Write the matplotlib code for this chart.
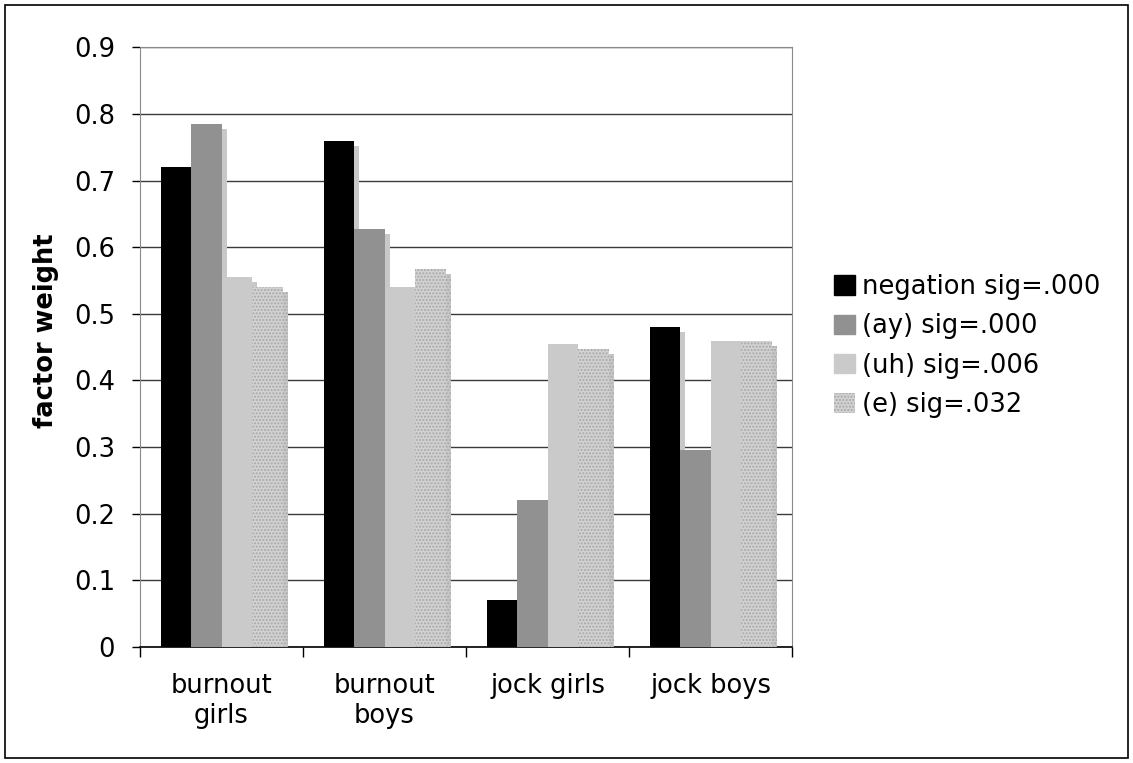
import numpy as np
import matplotlib
matplotlib.use('Agg')
import matplotlib.pyplot as plt
import matplotlib.patheffects as pe
from matplotlib.patches import Patch, Rectangle

# ---------------------------------------------------------------------------
# Data
# ---------------------------------------------------------------------------
groups = ['burnout\ngirls', 'burnout\nboys', 'jock girls', 'jock boys']
series = ['negation sig=.000', '(ay) sig=.000', '(uh) sig=.006', '(e) sig=.032']
negation = [0.72, 0.76, 0.07, 0.48]
ay = [0.785, 0.627, 0.22, 0.295]
uh = [0.555, 0.54, 0.455, 0.46]
e = [0.54, 0.568, 0.447, 0.46]
y_ticks = [0, 0.1, 0.2, 0.3, 0.4, 0.5, 0.6, 0.7, 0.8, 0.9]

FS = 18.5
plt.rcParams['hatch.linewidth'] = 1.0

fig = plt.figure(figsize=(11.33, 7.63), dpi=100)
ax = fig.add_axes([0.1236, 0.152, 0.5755, 0.786])

# outer frame round the whole picture
fig.patches.append(Rectangle((0.004, 0.006), 0.992, 0.988, transform=fig.transFigure,
                             fill=False, edgecolor='black', linewidth=1.2))

x = np.arange(len(groups))
w = 0.187
styles = [
    dict(color='#000000'),
    dict(color='#919191'),
    dict(color='#cacaca'),
    dict(facecolor='#d2d2d2', edgecolor='#a8a8a8', hatch='.....', linewidth=0),
]
shadow = [pe.SimplePatchShadow(offset=(3.6, -3.6), shadow_rgbFace='#c8c8c8', alpha=1.0),
          pe.Normal()]

for i, (vals, st) in enumerate(zip([negation, ay, uh, e], styles)):
    bars = ax.bar(x + (i - 1.5) * w, vals, width=w, zorder=3, **st)
    for b in bars:
        b.set_path_effects(shadow)

ax.set_ylim(0, 0.9)
ax.set_xlim(-0.5, len(groups) - 0.5)
ax.set_yticks(y_ticks)
ax.set_yticklabels([f'{t:g}' for t in y_ticks], fontsize=FS)
ax.yaxis.grid(True, color='#3a3a3a', linewidth=1.0, zorder=0)
ax.set_axisbelow(True)

# category boundaries as ticks, names on minor ticks at centres
ax.set_xticks(np.arange(len(groups) + 1) - 0.5)
ax.set_xticklabels([])
ax.set_xticks(x, minor=True)
ax.set_xticklabels(groups, minor=True, fontsize=FS, linespacing=1.2)
ax.tick_params(axis='x', which='major', length=7, width=1, direction='out')
ax.tick_params(axis='x', which='minor', length=0, pad=19)
ax.tick_params(axis='y', length=6, width=1, direction='out', pad=12)

for s in ['top', 'right']:
    ax.spines[s].set_color('#8a8a8a')
ax.spines['left'].set_color('#8a8a8a')
ax.spines['bottom'].set_color('black')
ax.spines['bottom'].set_linewidth(1.2)

ax.set_ylabel('factor weight', fontsize=FS, fontweight='bold')
ax.yaxis.set_label_coords(-0.124, 0.527)

handles = [Patch(**st, label=lab) for st, lab in zip(styles, series)]
fig.legend(handles=handles, loc='upper left', bbox_to_anchor=(0.736, 0.641),
           frameon=False, fontsize=FS, handlelength=0.82, handleheight=0.78,
           handletextpad=0.28, labelspacing=0.52, borderaxespad=0, borderpad=0)

fig.savefig('out.png', dpi=100)
